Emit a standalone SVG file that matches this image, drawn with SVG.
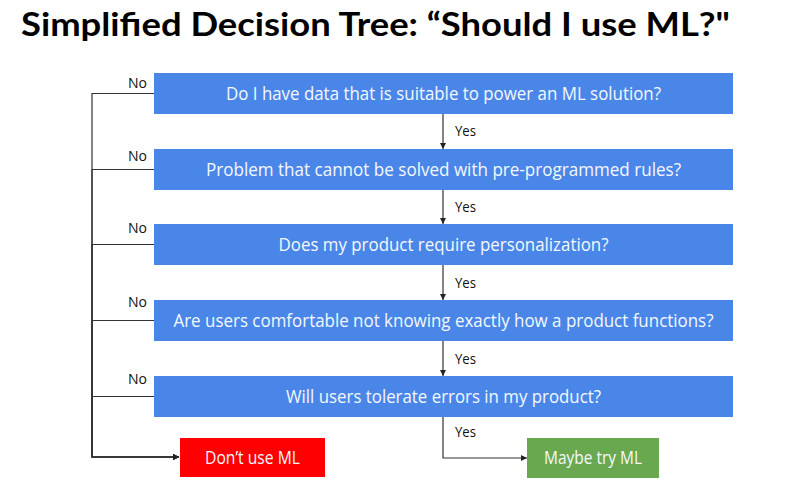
<svg xmlns="http://www.w3.org/2000/svg" width="800" height="495" viewBox="0 0 800 495">
<defs>
<marker id="ah" markerWidth="6" markerHeight="6" refX="6" refY="3" orient="auto" markerUnits="userSpaceOnUse">
<path d="M0,0 L6,3 L0,6 z" fill="#222"/>
</marker>
<style>
.q{fill:#4a86e8}
.qt{fill:#f4f8ff;font-family:"Open Sans","Noto Sans",sans-serif;font-size:18px;text-anchor:middle}
.lbl{fill:#111;font-family:"Open Sans","Noto Sans",sans-serif;font-size:14px}
.c{fill:none;stroke:#333;stroke-width:1.2}
.title{fill:#000;font-family:Lato,"Open Sans",sans-serif;font-weight:bold;font-size:32px}
</style>
</defs>
<rect width="800" height="495" fill="#fff"/>
<text class="title" x="21" y="36" textLength="709" lengthAdjust="spacingAndGlyphs">Simplified Decision Tree: “Should I use ML?"</text>
<g id="connectors">
<path class="c" d="M154,93.5 H92 V457 H179" marker-end="url(#ah)"/>
<path class="c" d="M154,169.5 H92 V457 H179" marker-end="url(#ah)"/>
<path class="c" d="M154,244.5 H92 V457 H179" marker-end="url(#ah)"/>
<path class="c" d="M154,320.5 H92 V457 H179" marker-end="url(#ah)"/>
<path class="c" d="M154,396.5 H92 V457 H179" marker-end="url(#ah)"/>
<path class="c" d="M443,114 V149" marker-end="url(#ah)"/>
<path class="c" d="M443,190 V224" marker-end="url(#ah)"/>
<path class="c" d="M443,265 V300" marker-end="url(#ah)"/>
<path class="c" d="M443,341 V376" marker-end="url(#ah)"/>
<path class="c" d="M443,417 V458 H527" marker-end="url(#ah)"/>
<text class="lbl" x="128" y="88" textLength="19" lengthAdjust="spacingAndGlyphs">No</text>
<text class="lbl" x="128" y="161" textLength="19" lengthAdjust="spacingAndGlyphs">No</text>
<text class="lbl" x="128" y="233" textLength="19" lengthAdjust="spacingAndGlyphs">No</text>
<text class="lbl" x="128" y="307" textLength="19" lengthAdjust="spacingAndGlyphs">No</text>
<text class="lbl" x="128" y="384" textLength="19" lengthAdjust="spacingAndGlyphs">No</text>
<text class="lbl" x="455" y="136" textLength="21" lengthAdjust="spacingAndGlyphs">Yes</text>
<text class="lbl" x="455" y="212" textLength="21" lengthAdjust="spacingAndGlyphs">Yes</text>
<text class="lbl" x="455" y="288" textLength="21" lengthAdjust="spacingAndGlyphs">Yes</text>
<text class="lbl" x="455" y="364" textLength="21" lengthAdjust="spacingAndGlyphs">Yes</text>
<text class="lbl" x="455" y="437" textLength="21" lengthAdjust="spacingAndGlyphs">Yes</text>
</g>
<g id="q1"><rect class="q" x="154" y="73" width="579" height="41"/><text class="qt" x="443.5" y="100" textLength="435" lengthAdjust="spacingAndGlyphs">Do I have data that is suitable to power an ML solution?</text></g>
<g id="q2"><rect class="q" x="154" y="149" width="579" height="41"/><text class="qt" x="443.5" y="176" textLength="475" lengthAdjust="spacingAndGlyphs">Problem that cannot be solved with pre-programmed rules?</text></g>
<g id="q3"><rect class="q" x="154" y="224" width="579" height="41"/><text class="qt" x="443.5" y="251" textLength="330" lengthAdjust="spacingAndGlyphs">Does my product require personalization?</text></g>
<g id="q4"><rect class="q" x="154" y="300" width="579" height="41"/><text class="qt" x="443.5" y="327" textLength="540" lengthAdjust="spacingAndGlyphs">Are users comfortable not knowing exactly how a product functions?</text></g>
<g id="q5"><rect class="q" x="154" y="376" width="579" height="41"/><text class="qt" x="443.5" y="403" textLength="315" lengthAdjust="spacingAndGlyphs">Will users tolerate errors in my product?</text></g>
<g id="dont"><rect x="180" y="438" width="145" height="39" fill="#ff0000"/><text class="qt" x="252.5" y="463.5" textLength="95" lengthAdjust="spacingAndGlyphs">Don’t use ML</text></g>
<g id="maybe"><rect x="527" y="438" width="132" height="40" fill="#6aa84f"/><text class="qt" x="593" y="464" textLength="98" lengthAdjust="spacingAndGlyphs">Maybe try ML</text></g>
</svg>
